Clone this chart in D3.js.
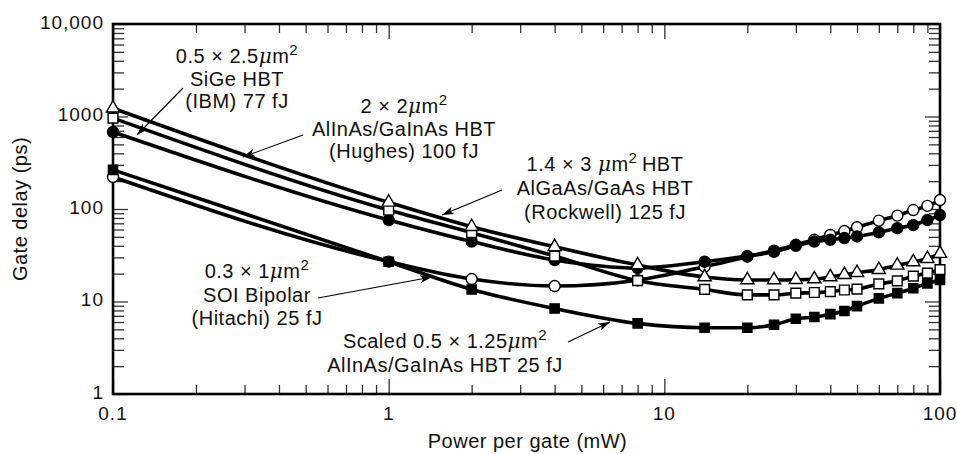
<!DOCTYPE html>
<html>
<head>
<meta charset="utf-8">
<script src="https://cdn.jsdelivr.net/npm/d3@7"></script>
<style>
body { margin: 0; background: #fff; }
text { font-family: "Liberation Sans", Arial, sans-serif; fill: #111; }
</style>
</head>
<body>
<script>
// power per gate (mW) at which the delays were read
var power = [0.1, 1, 2, 4, 8, 14, 20, 25, 30, 35, 40, 45, 50, 60, 70, 80, 90, 100];

// gate delay (ps) per technology
var rockwell = [1230, 118, 64.4, 39, 24.8, 18.4, 17.1, 17.1, 17.2, 17.5, 18.4, 19.5, 20.5, 22.1, 24.6, 26.8, 29, 33];
var hughes = [960, 97.5, 55.5, 31, 16.8, 13.5, 11.8, 11.8, 12.3, 12.5, 12.8, 13.3, 13.6, 15.5, 16.7, 18.8, 20.3, 22.1];
var ibm = [680, 76, 44.4, 28.1, 23, 26.9, 31, 34.5, 40, 44.5, 46.5, 48.5, 50.5, 56, 62, 67, 76, 86];
var hitachi = [222, 27, 17.5, 14.7, 17, 23.8, 30.5, 35.5, 41, 46.5, 52.4, 57.8, 63.4, 74.8, 84.7, 97.5, 108, 125];
var scaled = [265, 26.9, 13.5, 8.4, 5.8, 5.2, 5.2, 5.6, 6.5, 6.8, 7.3, 7.9, 8.9, 10.8, 12.3, 13.9, 15.7, 17.1];

var xTicks = [0.1, 1, 10, 100];
var xTickLabels = ['0.1', '1', '10', '100'];
var yTicks = [1, 10, 100, 1000, 10000];
var yTickLabels = ['1', '10', '100', '1000', '10,000'];

var margin = { left: 113, right: 17, top: 24, bottom: 60 };
var width = 957 - margin.left - margin.right;
var height = 454 - margin.top - margin.bottom;

var svg = d3.select('body').append('svg')
	.attr('width', 957)
	.attr('height', 454);

var defs = svg.append('defs');
defs.append('marker')
	.attr('id', 'head')
	.attr('viewBox', '0 0 12 8')
	.attr('refX', 12).attr('refY', 4)
	.attr('markerWidth', 12).attr('markerHeight', 8)
	.attr('markerUnits', 'userSpaceOnUse')
	.attr('orient', 'auto')
	.append('path')
	.attr('d', 'M0,0 L12,4 L0,8 L3,4 Z')
	.attr('fill', '#000');

var g = svg.append('g').attr('transform', 'translate(' + margin.left + ',' + margin.top + ')');

var x = d3.scaleLog().domain([0.1, 100]).range([0, width]);
var y = d3.scaleLog().domain([1, 10000]).range([height, 0]);

function minors(lo, hi) {
	var out = [];
	for (var d = lo; d < hi; d *= 10) {
		for (var k = 2; k <= 9; k++) out.push(d * k);
	}
	return out;
}
var xMinor = minors(0.1, 100);
var yMinor = minors(1, 10000);

// ticks on all four sides, pointing inward
function tickSet(axis, vals, len, pos) {
	var a = axis.tickValues(vals).tickSize(-len).tickFormat('');
	var sel = g.append('g').attr('class', 'ticks');
	if (pos) sel.attr('transform', pos);
	sel.call(a);
	sel.select('.domain').remove();
	sel.selectAll('line').attr('stroke', '#333').attr('stroke-width', 1.3);
	return sel;
}
tickSet(d3.axisBottom(x), xMinor, 9, 'translate(0,' + height + ')');
tickSet(d3.axisBottom(x), xTicks, 15, 'translate(0,' + height + ')');
tickSet(d3.axisTop(x), xMinor, 9, null);
tickSet(d3.axisTop(x), xTicks, 15, null);
tickSet(d3.axisLeft(y), yMinor, 11, null);
tickSet(d3.axisLeft(y), yTicks, 15, null);
tickSet(d3.axisRight(y), yMinor, 11, 'translate(' + width + ',0)');
tickSet(d3.axisRight(y), yTicks, 15, 'translate(' + width + ',0)');

// frame
g.append('rect')
	.attr('width', width).attr('height', height)
	.attr('fill', 'none').attr('stroke', '#000').attr('stroke-width', 2.6);

// tick labels
g.selectAll('.xlab').data(xTicks).enter().append('text')
	.attr('class', 'xlab')
	.attr('x', function(d) { return x(d); })
	.attr('y', height + 26)
	.attr('text-anchor', 'middle')
	.attr('font-size', '19px')
	.attr('letter-spacing', '1px')
	.text(function(d, i) { return xTickLabels[i]; });

g.selectAll('.ylab').data(yTicks).enter().append('text')
	.attr('class', 'ylab')
	.attr('x', -9)
	.attr('y', function(d) { return y(d) + 4.5; })
	.attr('text-anchor', 'end')
	.attr('font-size', '19px')
	.attr('letter-spacing', '1px')
	.text(function(d, i) { return yTickLabels[i]; });

// axis titles
g.append('text')
	.attr('x', width / 2 + 1)
	.attr('y', height + 54)
	.attr('text-anchor', 'middle')
	.attr('font-size', '20px')
	.attr('letter-spacing', '0.5px')
	.text('Power per gate (mW)');

g.append('text')
	.attr('transform', 'rotate(-90)')
	.attr('x', -height / 2)
	.attr('y', -86)
	.attr('text-anchor', 'middle')
	.attr('font-size', '20px')
	.attr('letter-spacing', '0.5px')
	.text('Gate delay (ps)');

// series: drawn lowest first so later markers sit on top
var series = [
	{ name: 'hitachi', values: hitachi, symbol: d3.symbolCircle, size: 95, fill: '#fff' },
	{ name: 'scaled', values: scaled, symbol: d3.symbolSquare, size: 85, fill: '#000' },
	{ name: 'ibm', values: ibm, symbol: d3.symbolCircle, size: 95, fill: '#000' },
	{ name: 'hughes', values: hughes, symbol: d3.symbolSquare, size: 95, fill: '#fff' },
	{ name: 'rockwell', values: rockwell, symbol: d3.symbolTriangle, size: 75, fill: '#fff' }
];

var line = d3.line()
	.x(function(d) { return x(d[0]); })
	.y(function(d) { return y(d[1]); })
	.curve(d3.curveMonotoneX);

series.forEach(function(s) {
	g.append('path')
		.datum(power.map(function(p, i) { return [p, s.values[i]]; }))
		.attr('fill', 'none')
		.attr('stroke', '#000')
		.attr('stroke-width', 3.6)
		.attr('d', line);
});

series.forEach(function(s) {
	g.selectAll('.m-' + s.name)
		.data(power.map(function(p, i) { return [p, s.values[i]]; }))
		.enter().append('path')
		.attr('class', 'm-' + s.name)
		.attr('transform', function(d) { return 'translate(' + x(d[0]) + ',' + y(d[1]) + ')'; })
		.attr('d', d3.symbol().type(s.symbol).size(s.size))
		.attr('fill', s.fill)
		.attr('stroke', '#000')
		.attr('stroke-width', 1.4);
});

// annotations (page pixel coordinates)
var ann = svg.append('g').attr('font-size', '20px').attr('letter-spacing', '0.5px');

function areaLine(sel, pre, post) {
	sel.append('tspan').text(pre);
	sel.append('tspan').attr('font-style', 'italic').attr('font-family', '"DejaVu Serif", serif').text('\u03bc');
	sel.append('tspan').text('m');
	sel.append('tspan').attr('dy', -8).attr('font-size', '15px').text('2');
	if (post) sel.append('tspan').attr('dy', 8).text(post);
}

function block(cx, y0, dy, lines) {
	lines.forEach(function(l, i) {
		var t = ann.append('text')
			.attr('x', cx)
			.attr('y', y0 + i * dy)
			.attr('text-anchor', 'middle');
		if (typeof l === 'string') t.text(l);
		else areaLine(t, l[0], l[1]);
	});
}

function leader(x1, y1, x2, y2) {
	ann.append('line')
		.attr('x1', x1).attr('y1', y1).attr('x2', x2).attr('y2', y2)
		.attr('stroke', '#000').attr('stroke-width', 1.1)
		.attr('marker-end', 'url(#head)');
}

block(237, 63, 22.5, [['0.5 \u00d7 2.5', ''], 'SiGe HBT', '(IBM) 77 fJ']);
leader(183, 88, 137, 135);

block(404, 113, 22.5, [['2 \u00d7 2', ''], 'AlInAs/GaInAs HBT', '(Hughes) 100 fJ']);
leader(303, 135, 243, 157);

block(605, 171, 24, [['1.4 \u00d7 3 ', '\u2009HBT'], 'AlGaAs/GaAs HBT', '(Rockwell) 125 fJ']);
leader(502, 190, 442, 215);

block(257, 278, 23.5, [['0.3 \u00d7 1', ''], 'SOI Bipolar', '(Hitachi) 25 fJ']);
leader(318, 298, 432, 277);

block(445, 348, 24, [['Scaled 0.5 \u00d7 1.25', ''], 'AlInAs/GaInAs HBT 25 fJ']);
leader(568, 342, 610, 322);
</script>
</body>
</html>
